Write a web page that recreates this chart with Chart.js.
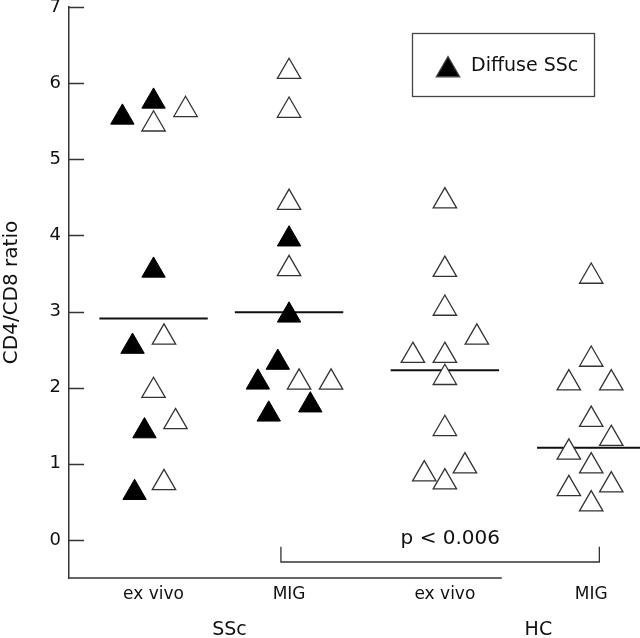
<!DOCTYPE html>
<html>
<head>
<meta charset="utf-8">
<script src="https://cdn.jsdelivr.net/npm/chart.js@4.4.0/dist/chart.umd.min.js"></script>
<style>
  html, body { margin: 0; padding: 0; background: #fff; overflow: hidden; }
  #wrap { position: absolute; left: 0; top: 0; width: 640px; height: 638px; }
</style>
</head>
<body>
<div id="wrap"><canvas id="chart"></canvas></div>
<script>
// categories and where they sit on the x scale
const categories = ['ex vivo', 'MIG', 'ex vivo', 'MIG'];
const groups = ['SSc', 'HC'];
const groupX = [1, 2, 3.15, 4.23];
const groupLabelX = [1.56, 3.84];
const yTicks = [0, 1, 2, 3, 4, 5, 6, 7];

// group means (horizontal bars)
const means = [2.91, 2.99, 2.23, 1.21];

// SSc ex vivo
const sscExVivoDiffuse = [5.55, 5.76, 3.54, 2.54, 1.43, 0.62];
const sscExVivoDiffuseJitter = [-0.23, 0, 0, -0.155, -0.067, -0.14];
const sscExVivoOther = [5.46, 5.65, 2.66, 1.96, 1.55, 0.75];
const sscExVivoOtherJitter = [0, 0.236, 0.077, 0, 0.162, 0.077];

// SSc MIG
const sscMigDiffuse = [3.95, 2.95, 2.33, 2.07, 1.77, 1.65];
const sscMigDiffuseJitter = [0, 0, -0.083, -0.23, 0.157, -0.15];
const sscMigOther = [6.15, 5.64, 4.43, 3.56, 2.07, 2.07];
const sscMigOtherJitter = [0, 0, 0, 0, 0.074, 0.31];

// HC ex vivo
const hcExVivo = [4.45, 3.55, 3.04, 2.66, 2.42, 2.42, 2.13, 1.46, 0.97, 0.865, 0.76];
const hcExVivoJitter = [0, 0, 0, 0.236, -0.236, 0, 0, 0, 0.148, -0.152, 0];

// HC MIG
const hcMig = [3.46, 2.37, 2.06, 2.06, 1.58, 1.33, 1.15, 0.97, 0.67, 0.72, 0.47];
const hcMigJitter = [0, 0, -0.165, 0.148, 0, 0.148, -0.165, 0, -0.165, 0.148, 0];

const pText = 'p < 0.006';
const legendText = 'Diffuse SSc';

const FONT = "'DejaVu Sans', sans-serif";

function toPoints(cat, values, jitter) {
    return values.map((v, i) => ({ x: groupX[cat] + jitter[i], y: v }));
}

const diffuseData = [
    ...toPoints(0, sscExVivoDiffuse, sscExVivoDiffuseJitter),
    ...toPoints(1, sscMigDiffuse, sscMigDiffuseJitter)
];
const otherData = [
    ...toPoints(0, sscExVivoOther, sscExVivoOtherJitter),
    ...toPoints(1, sscMigOther, sscMigOtherJitter),
    ...toPoints(2, hcExVivo, hcExVivoJitter),
    ...toPoints(3, hcMig, hcMigJitter)
];

const meanSets = means.map((m, i) => ({
    type: 'line',
    data: [{ x: groupX[i] - 0.4, y: m }, { x: groupX[i] + 0.4, y: m }],
    borderColor: '#111',
    borderWidth: 2,
    pointRadius: 0,
    order: 3
}));

// axis decorations, labels, bracket and legend box
const decorations = {
    id: 'decorations',
    afterDraw(chart) {
        const ctx = chart.ctx;
        const xs = chart.scales.x;
        const ys = chart.scales.y;
        const area = chart.chartArea;
        ctx.save();
        ctx.strokeStyle = '#333';
        ctx.lineWidth = 1.5;

        // inward y ticks
        yTicks.forEach(t => {
            const py = Math.round(ys.getPixelForValue(t)) + 0.5;
            ctx.beginPath();
            ctx.moveTo(area.left, py);
            ctx.lineTo(area.left + 15, py);
            ctx.stroke();
        });

        // bottom axis line (stops short of the last group)
        ctx.beginPath();
        ctx.moveTo(area.left, area.bottom);
        ctx.lineTo(xs.getPixelForValue(3.57), area.bottom);
        ctx.stroke();

        // significance bracket
        const bx1 = xs.getPixelForValue(groupX[1] - 0.06);
        const bx2 = xs.getPixelForValue(groupX[3] + 0.06);
        const by1 = ys.getPixelForValue(-0.09);
        const by2 = ys.getPixelForValue(-0.29);
        ctx.lineWidth = 1.3;
        ctx.beginPath();
        ctx.moveTo(bx1, by1);
        ctx.lineTo(bx1, by2);
        ctx.lineTo(bx2, by2);
        ctx.lineTo(bx2, by1);
        ctx.stroke();

        ctx.fillStyle = '#111';
        ctx.textAlign = 'center';
        ctx.textBaseline = 'middle';
        ctx.font = '20px ' + FONT;
        ctx.fillText(pText, xs.getPixelForValue(3.19), ys.getPixelForValue(0.01));

        // category labels
        ctx.font = '17px ' + FONT;
        categories.forEach((c, i) => {
            ctx.fillText(c, xs.getPixelForValue(groupX[i]), area.bottom + 17);
        });
        ctx.font = '19px ' + FONT;
        groups.forEach((g, i) => {
            ctx.fillText(g, xs.getPixelForValue(groupLabelX[i]), area.bottom + 52);
        });

        // legend box
        ctx.lineWidth = 1.3;
        ctx.strokeStyle = '#444';
        ctx.strokeRect(412.5, 33.5, 182, 63);
        ctx.fillStyle = '#000';
        Chart.helpers.drawPoint(ctx, { pointStyle: 'triangle', radius: 13.5, borderWidth: 1 }, 448, 70);
        ctx.fillStyle = '#111';
        ctx.textAlign = 'left';
        ctx.font = '19px ' + FONT;
        ctx.fillText(legendText, 471, 66);
        ctx.restore();
    }
};

new Chart(document.getElementById('chart'), {
    type: 'scatter',
    data: {
        datasets: [
            ...meanSets,
            {
                label: 'Diffuse SSc',
                data: diffuseData,
                pointStyle: 'triangle',
                pointRadius: 13.5,
                backgroundColor: '#000',
                borderColor: '#000',
                borderWidth: 1,
                order: 1
            },
            {
                label: 'Other',
                data: otherData,
                pointStyle: 'triangle',
                pointRadius: 13.5,
                backgroundColor: '#fff',
                borderColor: '#333',
                borderWidth: 1.3,
                order: 2
            }
        ]
    },
    options: {
        responsive: true,
        maintainAspectRatio: false,
        animation: false,
        layout: { autoPadding: false, padding: { top: 7, bottom: 60, right: 0, left: 0 } },
        plugins: {
            legend: { display: false },
            tooltip: { enabled: false }
        },
        scales: {
            x: {
                type: 'linear',
                display: false,
                min: 0.376,
                max: 4.59
            },
            y: {
                type: 'linear',
                min: -0.5,
                max: 7,
                afterBuildTicks: s => { s.ticks = yTicks.map(v => ({ value: v })); },
                afterFit: s => { s.width = 69; s.paddingTop = 0; s.paddingBottom = 0; },
                grid: { display: true, drawOnChartArea: false, drawTicks: false },
                border: { display: true, color: '#333', width: 1.5 },
                ticks: {
                    padding: 8,
                    color: '#111',
                    font: { family: FONT, size: 18 }
                },
                title: {
                    display: true,
                    text: 'CD4/CD8 ratio',
                    color: '#111',
                    font: { family: FONT, size: 20 },
                    padding: 0
                }
            }
        }
    },
    plugins: [decorations]
});
</script>
</body>
</html>
